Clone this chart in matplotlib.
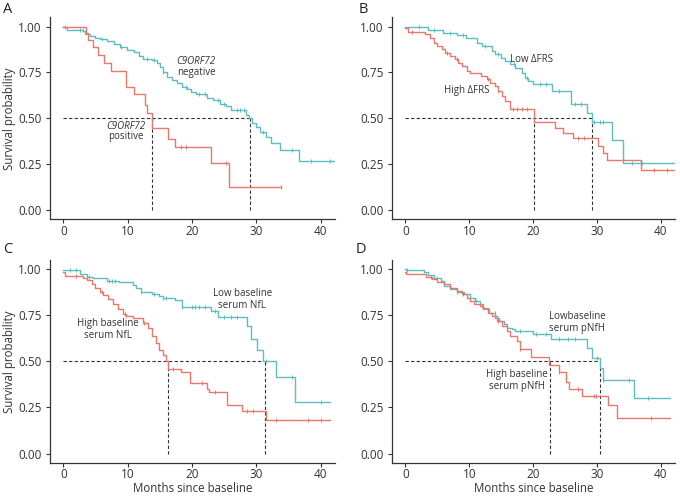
import numpy as np
import matplotlib
matplotlib.use('Agg')
import matplotlib.pyplot as plt

plt.rcParams['font.family'] = ['Open Sans', 'DejaVu Sans']

RED = '#E8776C'
BLUE = '#5FBDC1'
TXT = '#333333'

# ---- panel A: C9ORF72 ----
tA_neg = [0, 0.5, 3.1, 3.4, 4.1, 4.9, 5.7, 6.7, 7.8, 8.8, 9.8, 10.9, 11.7, 12.4, 13.7, 14.5, 15.0, 15.5, 16.1, 16.8,
          17.6, 18.4, 19.2, 19.9, 20.6, 22.3, 23.3, 24.3, 25.2, 26.0, 28.4, 28.9, 29.3, 30.0, 30.6, 31.5, 32.2, 33.6, 36.6, 42.0]
sA_neg = [1.0, 0.98, 0.975, 0.96, 0.95, 0.94, 0.93, 0.922, 0.904, 0.888, 0.872, 0.859, 0.841, 0.825, 0.815, 0.80, 0.778, 0.75, 0.724, 0.706,
          0.69, 0.67, 0.66, 0.645, 0.63, 0.612, 0.598, 0.58, 0.566, 0.544, 0.52, 0.499, 0.472, 0.454, 0.427, 0.40, 0.364, 0.325, 0.27, 0.27]
cA_neg = [0.3, 2.5, 3.0, 6.0, 9.0, 13.0, 14.0, 15.5, 19.0, 21.0, 22.0, 24.0, 25.0, 27.0, 27.5, 28.0, 31.0, 35.6, 38.5, 41.5]
tA_pos = [0, 3.5, 3.8, 4.6, 5.4, 6.25, 7.4, 9.7, 11.0, 12.7, 13.0, 13.75, 16.3, 17.4, 23.0, 25.8, 33.8]
sA_pos = [1.0, 0.964, 0.928, 0.886, 0.845, 0.80, 0.756, 0.672, 0.63, 0.572, 0.531, 0.446, 0.388, 0.342, 0.255, 0.128, 0.128]
cA_pos = [18.3, 19.0, 25.3, 33.8]
medA = [13.7, 29.0]

# ---- panel B: delta FRS ----
tB_low = [0, 3.6, 5.9, 8.0, 9.5, 11.2, 12.0, 13.5, 14.0, 15.0, 15.6, 16.4, 17.1, 18.2, 18.7, 19.2, 20.0, 22.9, 25.9, 28.4,
          29.2, 32.3, 34.0, 42.2]
sB_low = [1.0, 0.982, 0.967, 0.955, 0.94, 0.912, 0.894, 0.867, 0.849, 0.831, 0.812, 0.794, 0.776, 0.749, 0.722, 0.703, 0.685, 0.648, 0.579, 0.53,
          0.479, 0.384, 0.257, 0.257]
cB_low = [2.2, 4.5, 7.0, 9.0, 12.5, 14.5, 17.0, 19.0, 21.0, 22.0, 24.0, 26.5, 27.5, 29.5, 30.5, 31.0, 35.5, 37.0]
tB_high = [0, 0.4, 3.0, 3.9, 4.4, 4.9, 5.7, 6.2, 7.0, 7.8, 8.3, 8.8, 9.6, 10.1, 11.9, 12.7, 13.2, 14.0, 14.5, 15.1,
           15.6, 16.4, 20.1, 23.4, 24.7, 26.2, 30.2, 30.9, 31.6, 36.9, 42.2]
sB_high = [0.99, 0.97, 0.958, 0.94, 0.913, 0.894, 0.876, 0.858, 0.84, 0.822, 0.803, 0.785, 0.758, 0.749, 0.731, 0.712, 0.694, 0.676, 0.649, 0.621,
           0.594, 0.548, 0.479, 0.448, 0.42, 0.393, 0.351, 0.311, 0.271, 0.22, 0.22]
cB_high = [1.0, 6.5, 8.0, 13.0, 14.5, 16.8, 17.5, 18.2, 19.0, 27.0, 28.0, 39.0, 41.0]
medB = [20.2, 29.2]

# ---- panel C: serum NfL ----
tC_low = [0, 2.6, 3.6, 4.6, 6.7, 8.7, 10.8, 11.3, 12.0, 13.8, 14.9, 15.4, 17.4, 18.4, 22.9, 24.1, 28.5, 29.2, 30.1, 31.0,
          33.1, 36.0, 41.5]
sC_low = [0.995, 0.973, 0.958, 0.95, 0.937, 0.93, 0.915, 0.896, 0.878, 0.864, 0.855, 0.846, 0.832, 0.797, 0.773, 0.74, 0.691, 0.619, 0.559, 0.501,
          0.414, 0.278, 0.278]
cC_low = [1.0, 2.0, 4.0, 7.0, 7.5, 8.0, 12.0, 14.0, 15.5, 16.0, 18.5, 20.0, 20.5, 21.0, 22.0, 23.5, 25.0, 26.0, 27.0, 31.5, 35.5, 40.0]
tC_high = [0, 0.26, 3.1, 3.6, 4.4, 4.9, 5.6, 6.2, 6.9, 7.7, 8.5, 9.2, 9.7, 10.8, 12.3, 13.1, 13.8, 14.4, 14.9, 15.4,
           15.9, 16.2, 18.2, 19.7, 22.3, 22.6, 25.4, 27.8, 31.5, 41.5]
sC_high = [0.987, 0.964, 0.95, 0.94, 0.918, 0.90, 0.878, 0.86, 0.837, 0.813, 0.783, 0.755, 0.746, 0.737, 0.71, 0.683, 0.637, 0.601, 0.559, 0.537,
           0.501, 0.456, 0.443, 0.383, 0.352, 0.334, 0.261, 0.232, 0.183, 0.183]
cC_high = [2.0, 6.0, 9.5, 12.5, 17.0, 21.5, 23.5, 28.5, 29.5, 33.0, 38.0, 40.0]
medC = [16.2, 31.4]

# ---- panel D: serum pNfH ----
tD_low = [0, 0.15, 2.9, 3.5, 4.5, 5.5, 6.0, 7.0, 8.0, 9.1, 10.1, 10.9, 11.6, 12.1, 13.1, 14.1, 14.7, 15.4, 15.9, 16.7,
          17.2, 20.0, 22.8, 28.4, 29.2, 30.4, 30.9, 35.8, 41.4]
sD_low = [1.0, 0.995, 0.986, 0.97, 0.95, 0.933, 0.91, 0.893, 0.877, 0.864, 0.846, 0.828, 0.81, 0.782, 0.764, 0.737, 0.719, 0.701, 0.683, 0.675,
          0.665, 0.646, 0.621, 0.574, 0.519, 0.465, 0.40, 0.30, 0.30]
cD_low = [0.2, 5.0, 8.0, 11.0, 14.0, 18.0, 20.5, 22.0, 24.0, 25.5, 26.5, 30.0, 31.0, 35.0, 38.0]
tD_high = [0, 0.15, 3.2, 4.2, 5.0, 6.0, 7.0, 8.0, 8.8, 9.6, 10.1, 10.8, 11.6, 12.2, 12.9, 13.6, 14.4, 15.2, 15.9, 16.4,
           17.4, 18.0, 19.7, 22.5, 24.0, 25.1, 25.6, 27.7, 31.7, 33.1, 41.4]
sD_high = [0.987, 0.973, 0.958, 0.946, 0.928, 0.918, 0.90, 0.882, 0.864, 0.846, 0.828, 0.813, 0.80, 0.79, 0.764, 0.746, 0.719, 0.692, 0.664, 0.637,
           0.61, 0.568, 0.522, 0.48, 0.443, 0.39, 0.352, 0.31, 0.261, 0.193, 0.193]
cD_high = [4.0, 9.0, 12.0, 14.5, 18.0, 24.0, 27.0, 29.5, 29.8, 38.5]
medD = [22.6, 30.4]


def km(ax, t, s, cens, color):
	t = np.array(t)
	s = np.array(s)
	ax.step(t, s, where='post', color=color, lw=1.0)
	idx = np.searchsorted(t, cens, side='right') - 1
	ax.plot(cens, s[idx], ls='none', marker='|', ms=3.5, mew=0.7, color=color)


def style(ax, ylabel=False, xlabel=False):
	ax.set_xlim(-2.1, 42.2)
	ax.set_ylim(-0.05, 1.05)
	ax.set_xticks([0, 10, 20, 30, 40])
	ax.set_yticks([0, 0.25, 0.5, 0.75, 1.0])
	ax.set_yticklabels(['0.00', '0.25', '0.50', '0.75', '1.00'])
	for sp in ['top', 'right']:
		ax.spines[sp].set_visible(False)
	for sp in ['left', 'bottom']:
		ax.spines[sp].set_color('#333333')
		ax.spines[sp].set_linewidth(0.9)
	ax.tick_params(length=3, width=0.8, color='#333333', labelsize=8.5, labelcolor=TXT, pad=3)
	ax.tick_params(axis='x', pad=1)
	if ylabel:
		ax.set_ylabel('Survival probability', fontsize=8.3, color=TXT)
		ax.yaxis.set_label_coords(-0.118, 0.5)
	if xlabel:
		ax.set_xlabel('Months since baseline', fontsize=8.3, color=TXT, va='center')
		ax.xaxis.set_label_coords(0.5, -0.126)


def medians(ax, med):
	ax.plot([0, max(med)], [0.5, 0.5], ls=(0, (3, 2)), color='#333333', lw=0.8)
	for m in med:
		ax.plot([m, m], [0, 0.5], ls=(0, (3, 2)), color='#333333', lw=0.8)


fig = plt.figure(figsize=(6.8, 4.96), dpi=100)
axA = fig.add_axes([0.0735, 0.558, 0.419, 0.407])
axB = fig.add_axes([0.5765, 0.558, 0.416, 0.407])
axC = fig.add_axes([0.0735, 0.067, 0.419, 0.409])
axD = fig.add_axes([0.5765, 0.067, 0.416, 0.409])

fs = 7
# A
medians(axA, medA)
km(axA, tA_neg, sA_neg, cA_neg, BLUE)
km(axA, tA_pos, sA_pos, cA_pos, RED)
style(axA, ylabel=True)
axA.text(20.6, 0.81, 'C9ORF72', style='italic', ha='center', va='center', fontsize=fs, color=TXT)
axA.text(20.6, 0.75, 'negative', ha='center', va='center', fontsize=fs, color=TXT)
axA.text(9.7, 0.457, 'C9ORF72', style='italic', ha='center', va='center', fontsize=fs, color=TXT)
axA.text(9.7, 0.40, 'positive', ha='center', va='center', fontsize=fs, color=TXT)

# B
medians(axB, medB)
km(axB, tB_low, sB_low, cB_low, BLUE)
km(axB, tB_high, sB_high, cB_high, RED)
style(axB)
axB.text(19.8, 0.82, 'Low \u0394FRS', ha='center', va='center', fontsize=fs, color=TXT)
axB.text(9.6, 0.654, 'High \u0394FRS', ha='center', va='center', fontsize=fs, color=TXT)

# C
medians(axC, medC)
km(axC, tC_low, sC_low, cC_low, BLUE)
km(axC, tC_high, sC_high, cC_high, RED)
style(axC, ylabel=True, xlabel=True)
axC.text(27.8, 0.835, 'Low baseline\nserum NfL', ha='center', va='center', fontsize=fs, color=TXT, linespacing=1.15)
axC.text(6.9, 0.673, 'High baseline\nserum NfL', ha='center', va='center', fontsize=fs, color=TXT, linespacing=1.15)

# D
medians(axD, medD)
km(axD, tD_low, sD_low, cD_low, BLUE)
km(axD, tD_high, sD_high, cD_high, RED)
style(axD, xlabel=True)
axD.text(26.9, 0.71, 'Lowbaseline\nserum pNfH', ha='center', va='center', fontsize=fs, color=TXT, linespacing=1.15)
axD.text(17.5, 0.397, 'High baseline\nserum pNfH', ha='center', va='center', fontsize=fs, color=TXT, linespacing=1.15)

# panel letters
for lx, ly, lab in [(0.004, 0.996, 'A'), (0.527, 0.996, 'B'), (0.004, 0.512, 'C'), (0.523, 0.512, 'D')]:
	fig.text(lx, ly, lab, fontsize=10.5, color='#222222', ha='left', va='top')

fig.savefig('out.png', dpi=100)
plt.close()
